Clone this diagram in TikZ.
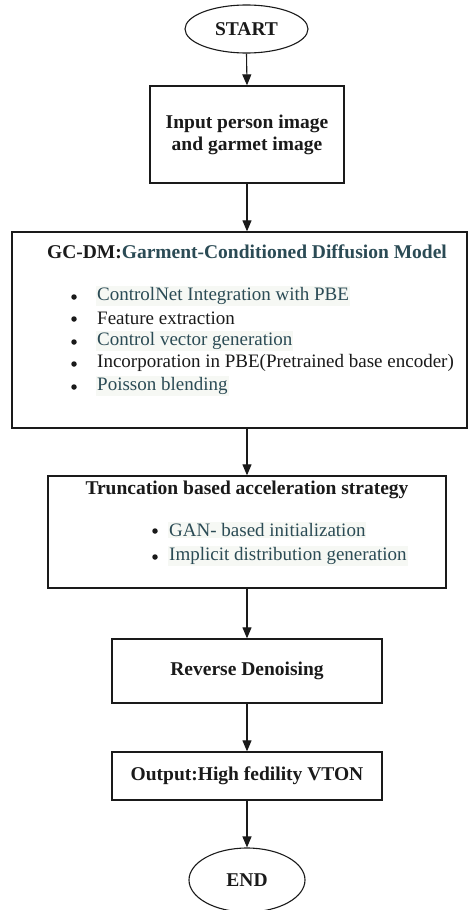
\documentclass[tikz,border=0pt]{standalone}
\usepackage{fontspec}
\setmainfont{Liberation Serif}
\usetikzlibrary{arrows.meta,shapes.geometric}
\definecolor{ink}{HTML}{1A1A1A}
\definecolor{tealtext}{HTML}{2B4B55}
\definecolor{hl}{HTML}{F6F8F4}
\begin{document}
\begin{tikzpicture}[x=1pt,y=-1pt,
  box/.style={draw=ink, line width=1.3pt, rectangle, inner sep=0pt},
  term/.style={draw=ink, line width=1.1pt, ellipse, inner sep=0pt},
  flow/.style={draw=ink, line width=1.1pt, -{Triangle[length=11pt,width=9pt]}},
  heading/.style={font=\fontsize{19.5}{22}\selectfont\bfseries, text=ink, inner sep=1pt},
  item/.style={font=\fontsize{19}{22}\selectfont, anchor=west, inner sep=1pt},
  tealitem/.style={item, text=tealtext, fill=hl},
  plainitem/.style={item, text=ink},
  dot/.style={circle, fill=ink, inner sep=0pt, minimum size=5.5pt},
]
\useasboundingbox[fill=white] (0,0) rectangle (470,910);

% terminals
\node[term, minimum width=123pt, minimum height=48pt, heading] (start) at (246.5,29) {START};
\node[term, minimum width=116pt, minimum height=64pt, heading] (finish) at (247,880) {END};

% input box
\node[box, minimum width=194pt, minimum height=97pt, align=center, heading] (input) at (247,134.5)
  {Input person image\\and garmet image};

% garment-conditioned diffusion model
\node[box, minimum width=455pt, minimum height=196pt] (gcdm) at (239.5,330) {};
\node[heading] (gctitle) at (247,252) {GC-DM:\textcolor{tealtext}{Garment-Conditioned Diffusion Model}};
\node[dot] (gd1) at (74,297) {};
\node[dot] (gd2) at (74,319) {};
\node[dot] (gd3) at (74,342) {};
\node[dot] (gd4) at (74,364) {};
\node[dot] (gd5) at (74,387) {};
\node[tealitem] (gi1) at (96,296) {ControlNet Integration with PBE};
\node[plainitem] (gi2) at (96,318) {Feature extraction};
\node[tealitem] (gi3) at (96,341) {Control vector generation};
\node[plainitem] (gi4) at (96,363) {Incorporation in PBE(Pretrained base encoder)};
\node[tealitem] (gi5) at (96,386) {Poisson blending};

% truncation based acceleration
\node[box, minimum width=398pt, minimum height=112pt] (trunc) at (247,532) {};
\node[heading] (trtitle) at (247,490) {Truncation based acceleration strategy};
\node[dot] (td1) at (155,531) {};
\node[dot] (td2) at (155,557) {};
\node[tealitem] (ti1) at (168,530) {GAN- based initialization};
\node[tealitem] (ti2) at (168,556) {Implicit distribution generation};

% denoising and output
\node[box, minimum width=270pt, minimum height=64pt, heading] (denoise) at (247,671) {Reverse Denoising};
\node[box, minimum width=270pt, minimum height=48pt, heading] (output) at (247,776) {Output:High fedility VTON};

% connectors
\draw[flow] (start.south) -- (input.north);
\draw[flow] (input.south) -- (input.south |- gcdm.north);
\draw[flow] (input.south |- gcdm.south) -- (trunc.north);
\draw[flow] (trunc.south) -- (denoise.north);
\draw[flow] (denoise.south) -- (output.north);
\draw[flow] (output.south) -- (finish.north);
\end{tikzpicture}
\end{document}
